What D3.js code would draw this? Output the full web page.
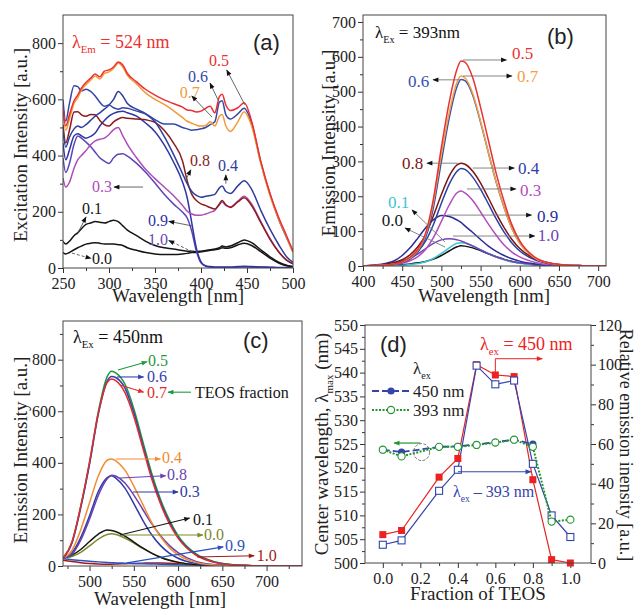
<!DOCTYPE html>
<html>
<head>
<meta charset="utf-8">
<script src="https://cdn.jsdelivr.net/npm/d3@7"></script>
<style>
body { margin: 0; background: #fff; }
.axis path.domain { display: none; }
.axis line { stroke: #333; }
</style>
</head>
<body>
<svg id="fig" width="635" height="610"></svg>
<script>
// ---------- panel (a): excitation spectra, lambda_em = 524 nm ----------
const WL_A = [250,253,257,262,266,270,275,280,285,290,295,300,305,310,315,320,330,340,350,360,370,380,385,390,395,400,405,410,415,420,423,427,432,440,447,455,465,475,485,493,500];
const A_05 = [570,505,545,595,615,640,660,675,690,680,700,705,715,733,722,692,662,635,615,598,585,572,562,560,555,558,568,575,552,610,618,580,560,570,588,522,380,265,175,115,60];
const A_07 = [555,490,530,585,605,632,652,668,683,672,692,698,710,728,715,685,655,622,600,582,560,535,522,515,508,505,507,520,505,540,546,505,486,520,556,505,372,258,170,110,55];
const A_06 = [598,522,585,648,645,630,636,628,612,590,575,580,570,565,570,568,558,548,528,512,512,500,495,490,492,495,500,510,520,590,595,545,530,548,568,515,375,262,168,108,58];
const A_04 = [486,430,465,495,505,500,510,525,540,552,565,580,600,628,612,585,565,548,520,468,405,335,300,272,258,252,255,258,262,285,292,272,265,292,310,280,205,138,80,40,20];
const A_08 = [510,445,490,555,556,545,540,546,545,525,510,505,520,530,535,533,530,527,518,490,445,380,310,262,240,228,222,215,210,228,240,225,215,235,250,222,162,102,55,28,15];
const A_03 = [320,288,305,355,385,400,418,438,452,458,462,475,492,500,470,440,392,350,318,288,258,222,202,192,188,188,192,198,205,225,235,222,218,238,255,228,165,105,55,28,15];
const A_09 = [444,385,420,470,478,470,462,468,480,505,525,540,550,556,558,552,540,515,485,438,378,305,250,160,70,22,8,5,4,4,4,4,4,5,6,5,4,3,2,2,1];
const A_10 = [391,340,372,440,470,462,448,432,412,392,380,372,392,405,406,398,372,340,302,262,228,198,178,130,60,18,6,3,2,2,2,2,2,3,4,3,3,2,1,1,1];
const A_01 = [95,85,95,115,125,140,155,160,165,163,160,165,170,165,150,135,115,95,80,72,68,62,60,60,58,60,62,65,68,72,78,75,78,90,100,90,65,40,20,10,5];
const A_00 = [55,50,55,65,72,78,85,88,90,88,85,85,85,83,80,72,63,55,50,48,48,50,52,55,55,58,60,63,65,68,72,70,72,82,88,80,58,35,17,8,4];

// ---------- panel (b): emission spectra, lambda_ex = 393 nm ----------
const WL_B = [400,420,440,450,460,470,480,490,500,510,520,525,530,540,550,560,570,580,590,600,620,640,660,680,710];
const B_05 = [0,2,6,12,25,48,95,195,340,470,565,588,585,540,455,360,265,185,118,72,24,8,3,1,0];
const B_07 = [0,2,6,11,23,45,90,185,320,440,528,545,540,495,415,325,240,168,107,65,22,7,2,1,0];
const B_06 = [0,2,5,10,20,40,82,170,300,425,515,535,532,490,412,325,240,168,108,66,22,7,2,1,0];
const B_08 = [0,3,10,18,32,55,90,145,205,258,290,295,292,272,238,195,150,110,76,50,20,7,2,1,0];
const B_04 = [0,2,7,13,24,42,72,120,180,235,272,280,277,255,220,178,135,97,66,43,17,6,2,1,0];
const B_03 = [0,1,4,8,15,27,48,82,128,175,210,215,210,188,155,120,88,60,40,26,10,3,1,0,0];
const B_09 = [0,4,15,30,52,80,110,133,145,142,132,125,115,96,76,57,42,30,21,14,6,2,1,0,0];
const B_10 = [0,2,7,13,22,35,50,65,75,78,75,72,67,57,46,35,26,19,13,9,4,1,0,0,0];
const B_01 = [0,0,1,2,4,7,12,22,36,52,65,67,66,58,47,36,26,18,12,8,3,1,0,0,0];
const B_00 = [0,1,2,4,6,9,13,20,30,43,55,58,57,52,44,35,27,19,13,9,3,1,0,0,0];

// ---------- panel (c): emission spectra, lambda_ex = 450 nm ----------
const WL_C = [470,480,490,500,510,520,525,530,540,550,560,570,580,590,600,620,640,660,680,700,740];
const C_05 = [30,90,230,400,600,735,755,748,705,610,485,362,260,180,118,48,18,6,2,0,0];
const C_06 = [30,88,225,395,590,718,735,730,690,595,470,350,250,172,112,45,16,5,2,0,0];
const C_07 = [30,92,232,405,595,712,725,718,672,580,460,340,242,165,108,42,15,5,2,0,0];
const C_04 = [30,60,140,245,350,410,415,407,372,310,240,170,115,72,43,14,4,1,0,0,0];
const C_08 = [30,45,100,182,275,338,352,348,322,275,220,165,118,80,52,18,6,2,0,0,0];
const C_03 = [30,50,110,195,290,343,350,340,302,242,178,122,80,50,30,10,3,1,0,0,0];
const C_01 = [30,42,64,95,124,140,138,133,116,93,70,50,34,22,14,5,1,0,0,0,0];
const C_00 = [30,37,53,78,104,122,125,122,108,89,68,50,35,23,15,5,1,0,0,0,0];
const C_09 = [28,24,21,18,16,14,13,12,11,10,9,8,7,6,5,4,3,2,1,0,0];
const C_10 = [22,17,13,10,8,7,7,8,9,10,11,12,12,11,9,6,3,1,0,0,0];

// ---------- panel (d): centre wavelength and relative intensity ----------
const FRAC = [0.0,0.1,0.3,0.4,0.5,0.6,0.7,0.8,0.9,1.0];
const REL_450 = [14.3,16.4,43.3,52.7,100,94.8,94,42,1.7,0];
const REL_393 = [9.2,11.4,36.4,47,99.5,90.1,92,50,24,13.1];
const CW_393 = [523.8,522.4,524.4,524.4,524.8,525.3,525.9,524.4,508.7,509.1];
const CW_450 = [523.8,523.3,524.4,524.5,524.9,525.4,525.9,525.0];

const SERIF = '"Liberation Serif", "Times New Roman", serif';
const SANS = '"Liberation Sans", Arial, sans-serif';

const svg = d3.select('#fig');
const defs = svg.append('defs');
const markers = {};

function headFor(color) {
    const id = 'ah' + color.replace('#', '');
    if (!markers[id]) {
        defs.append('marker')
            .attr('id', id)
            .attr('viewBox', '0 0 10 10')
            .attr('refX', 9).attr('refY', 5)
            .attr('markerUnits', 'userSpaceOnUse')
            .attr('markerWidth', 7).attr('markerHeight', 6)
            .attr('orient', 'auto')
            .append('path')
            .attr('d', 'M0,1L10,5L0,9z')
            .attr('fill', color);
        markers[id] = true;
    }
    return `url(#${id})`;
}

function panel(id, box, xDom, yDom) {
    const x = d3.scaleLinear().domain(xDom).range([box.l, box.r]);
    const y = d3.scaleLinear().domain(yDom).range([box.b, box.t]);
    const g = svg.append('g').attr('id', id);
    defs.append('clipPath').attr('id', 'clip-' + id)
        .append('rect')
        .attr('x', box.l).attr('y', box.t)
        .attr('width', box.r - box.l).attr('height', box.b - box.t);
    const plot = g.append('g').attr('clip-path', `url(#clip-${id})`);
    return {x, y, g, plot, box};
}

function addAxis(p, side, scale, major, minor, fmt) {
    const b = p.box;
    let gen, tr;
    if (side === 'bottom') { gen = d3.axisBottom; tr = `translate(0,${b.b})`; }
    else if (side === 'left') { gen = d3.axisLeft; tr = `translate(${b.l},0)`; }
    else { gen = d3.axisRight; tr = `translate(${b.r},0)`; }
    p.g.append('g').attr('class', 'axis').attr('transform', tr)
        .call(gen(scale).tickValues(minor).tickSize(3).tickFormat(''));
    const ax = p.g.append('g').attr('class', 'axis').attr('transform', tr)
        .call(gen(scale).tickValues(major).tickSize(5).tickPadding(side === 'bottom' ? 5 : 2).tickFormat(fmt));
    ax.selectAll('text')
        .style('font-family', SERIF)
        .style('font-size', '16px')
        .attr('fill', '#222');
}

function frame(p) {
    const b = p.box;
    p.g.append('rect')
        .attr('x', b.l).attr('y', b.t)
        .attr('width', b.r - b.l).attr('height', b.b - b.t)
        .attr('fill', 'none')
        .attr('stroke', '#444')
        .attr('stroke-width', 1);
}

function drawSeries(p, wl, list, width) {
    const line = d3.line()
        .x((d, i) => p.x(wl[i]))
        .y(d => p.y(d))
        .curve(d3.curveMonotoneX);
    list.forEach(s => {
        p.plot.append('path')
            .attr('d', line(s.v))
            .attr('fill', 'none')
            .attr('stroke', s.c)
            .attr('stroke-width', width);
    });
}

function labels(p, list, size) {
    list.forEach(l => {
        p.g.append('text')
            .attr('x', p.x(l.x)).attr('y', p.y(l.y))
            .attr('fill', l.c)
            .style('font-family', SERIF)
            .style('font-size', size + 'px')
            .text(l.t);
    });
}

function arrows(p, list, lineColor, width) {
    list.forEach(a => {
        const col = a.c || lineColor;
        p.g.append('line')
            .attr('x1', p.x(a.x1)).attr('y1', p.y(a.y1))
            .attr('x2', p.x(a.x2)).attr('y2', p.y(a.y2))
            .attr('stroke', col)
            .attr('stroke-width', width)
            .attr('stroke-dasharray', a.dash ? '3,2' : null)
            .attr('marker-end', headFor(a.h || col));
    });
}

function lamText(g, x, y, sub, rest, size, color) {
    const t = g.append('text')
        .attr('x', x).attr('y', y)
        .attr('fill', color)
        .style('font-family', SERIF)
        .style('font-size', size + 'px');
    t.append('tspan').text('λ');
    t.append('tspan').attr('dy', size * 0.3).style('font-size', (size * 0.6) + 'px').text(sub);
    t.append('tspan').attr('dy', -size * 0.3).text(rest);
    return t;
}

function tag(g, x, y, s) {
    g.append('text')
        .attr('x', x).attr('y', y)
        .attr('fill', '#222')
        .style('font-family', SANS)
        .style('font-size', '22px')
        .text(s);
}

function title(x, y, s, rot, size) {
    return svg.append('text')
        .attr('transform', `translate(${x},${y}) rotate(${rot || 0})`)
        .attr('text-anchor', 'middle')
        .attr('fill', '#222')
        .style('font-family', SERIF)
        .style('font-size', (size || 19) + 'px')
        .text(s);
}

// ================= (a) =================
const pa = panel('pa', {l: 63, r: 293, t: 15, b: 268}, [250, 500], [0, 900]);
addAxis(pa, 'bottom', pa.x, d3.range(250, 501, 50), d3.range(275, 500, 50), d3.format('d'));
addAxis(pa, 'left', pa.y, d3.range(0, 801, 200), d3.range(100, 900, 200), d3.format('d'));
drawSeries(pa, WL_A, [
    {v: A_00, c: '#151515'},
    {v: A_01, c: '#151515'},
    {v: A_10, c: '#5a46b8'},
    {v: A_09, c: '#3034a6'},
    {v: A_03, c: '#b04cb8'},
    {v: A_08, c: '#8a1c1c'},
    {v: A_04, c: '#2f3e9e'},
    {v: A_06, c: '#3548a8'},
    {v: A_07, c: '#f29a3a'},
    {v: A_05, c: '#ec2f2f'}
], 1.5);
frame(pa);
labels(pa, [
    {t: '0.5', c: '#ec2f2f', x: 408.7, y: 718},
    {t: '0.6', c: '#3548a8', x: 385.9, y: 662},
    {t: '0.7', c: '#f29a3a', x: 377, y: 605},
    {t: '0.8', c: '#8a1c1c', x: 388, y: 363},
    {t: '0.4', c: '#2f3e9e', x: 418.5, y: 345},
    {t: '0.3', c: '#b04cb8', x: 281.5, y: 270},
    {t: '0.1', c: '#151515', x: 270.7, y: 192},
    {t: '0.9', c: '#3034a6', x: 342.4, y: 150},
    {t: '1.0', c: '#6a48b8', x: 342.4, y: 83},
    {t: '0.0', c: '#151515', x: 281.5, y: 16}
], 16);
arrows(pa, [
    {x1: 447.8, y1: 580, x2: 428, y2: 704},
    {x1: 418.5, y1: 598, x2: 409.8, y2: 658},
    {x1: 412, y1: 537, x2: 390, y2: 612},
    {x1: 382.6, y1: 309, x2: 389, y2: 349},
    {x1: 427, y1: 300, x2: 427, y2: 331},
    {x1: 337, y1: 288, x2: 305.4, y2: 288},
    {x1: 266, y1: 124, x2: 275, y2: 181},
    {x1: 390, y1: 150, x2: 365, y2: 166},
    {x1: 391, y1: 57, x2: 365, y2: 98, dash: true},
    {x1: 259.8, y1: 53, x2: 280.4, y2: 34, dash: true}
].map(a => Object.assign(a, {h: '#111'})), '#555', 0.9);
lamText(pa.g, pa.x(259.8), pa.y(783), 'Em', ' = 524 nm', 18, '#ec2f2f');
tag(pa.g, pa.x(456.5), pa.y(775), '(a)');
title(27, 145, 'Excitation Intensity [a.u.]', -90);
title(178, 302, 'Wavelength [nm]');

// ================= (b) =================
const pb = panel('pb', {l: 363, r: 606, t: 15, b: 266}, [400, 710], [0, 720]);
addAxis(pb, 'bottom', pb.x, d3.range(400, 701, 50), d3.range(425, 700, 50), d3.format('d'));
addAxis(pb, 'left', pb.y, d3.range(0, 701, 100), d3.range(50, 720, 100), d3.format('d'));
drawSeries(pb, WL_B, [
    {v: B_00, c: '#151515'},
    {v: B_01, c: '#3cc6d6'},
    {v: B_10, c: '#7044b4'},
    {v: B_09, c: '#2c2c98'},
    {v: B_03, c: '#b24cc0'},
    {v: B_04, c: '#2f40a4'},
    {v: B_08, c: '#7a1616'},
    {v: B_06, c: '#3550b0'},
    {v: B_07, c: '#f2a043'},
    {v: B_05, c: '#e83232'}
], 1.5);
frame(pb);
labels(pb, [
    {t: '0.5', c: '#e83232', x: 590, y: 594},
    {t: '0.7', c: '#f2a043', x: 596.5, y: 528},
    {t: '0.6', c: '#3550b0', x: 457.4, y: 513},
    {t: '0.8', c: '#7a1616', x: 449.8, y: 278},
    {t: '0.4', c: '#2f40a4', x: 597.7, y: 264},
    {t: '0.3', c: '#b24cc0', x: 600.3, y: 201},
    {t: '0.9', c: '#2c2c98', x: 622, y: 126},
    {t: '1.0', c: '#7044b4', x: 623, y: 72},
    {t: '0.1', c: '#3cc6d6', x: 431.9, y: 166},
    {t: '0.0', c: '#151515', x: 424, y: 115}
], 17);
arrows(pb, [
    {x1: 527.6, y1: 591, x2: 583, y2: 591},
    {x1: 527.6, y1: 545, x2: 590, y2: 545},
    {x1: 523.7, y1: 534, x2: 489.3, y2: 534},
    {x1: 521, y1: 295, x2: 481.6, y2: 295},
    {x1: 540, y1: 281, x2: 593, y2: 281},
    {x1: 532.7, y1: 221, x2: 595, y2: 221},
    {x1: 507, y1: 146, x2: 615, y2: 146},
    {x1: 514.8, y1: 86, x2: 619, y2: 86},
    {x1: 504.6, y1: 69, x2: 462.5, y2: 161},
    {x1: 504.6, y1: 54.5, x2: 453.6, y2: 109}
].map(a => Object.assign(a, {h: '#111'})), '#777', 0.9);
lamText(pb.g, pb.x(415.3), pb.y(654), 'Ex', ' = 393nm', 17, '#111');
tag(pb.g, pb.x(634.7), pb.y(637), '(b)');
title(335, 143, 'Emission Intensity [a.u.]', -90);
title(484, 302, 'Wavelength [nm]');

// ================= (c) =================
const pc = panel('pc', {l: 63, r: 302, t: 321, b: 566}, [470, 740], [0, 950]);
addAxis(pc, 'bottom', pc.x, d3.range(500, 701, 50), d3.range(475, 740, 50), d3.format('d'));
addAxis(pc, 'left', pc.y, d3.range(0, 801, 200), d3.range(100, 950, 200), d3.format('d'));
drawSeries(pc, WL_C, [
    {v: C_10, c: '#a01a1a'},
    {v: C_09, c: '#2c50c0'},
    {v: C_00, c: '#7c8a2c'},
    {v: C_01, c: '#151515'},
    {v: C_03, c: '#2d3aa8'},
    {v: C_08, c: '#6a42b2'},
    {v: C_04, c: '#f08c32'},
    {v: C_05, c: '#1f9a3c'},
    {v: C_06, c: '#3242b2'},
    {v: C_07, c: '#e42c2c'}
], 1.5);
frame(pc);
labels(pc, [
    {t: '0.5', c: '#1f9a3c', x: 566, y: 774},
    {t: '0.6', c: '#3242b2', x: 565, y: 712},
    {t: '0.7', c: '#e42c2c', x: 565, y: 650},
    {t: 'TEOS fraction', c: '#151515', x: 619, y: 650},
    {t: '0.4', c: '#f08c32', x: 581.8, y: 400},
    {t: '0.8', c: '#6a42b2', x: 587.5, y: 333},
    {t: '0.3', c: '#2d3aa8', x: 602, y: 268},
    {t: '0.1', c: '#151515', x: 617, y: 159},
    {t: '0.0', c: '#7c8a2c', x: 629.3, y: 101},
    {t: '0.9', c: '#2c50c0', x: 653, y: 58},
    {t: '1.0', c: '#a01a1a', x: 689, y: 19}
], 16);
arrows(pc, [
    {x1: 532, y1: 760, x2: 565, y2: 792, c: '#1f9a3c'},
    {x1: 531, y1: 733, x2: 561, y2: 733, c: '#3242b2'},
    {x1: 534.4, y1: 702, x2: 561, y2: 674, c: '#e42c2c'},
    {x1: 614.6, y1: 674, x2: 588.6, y2: 674, c: '#1f9a3c'},
    {x1: 530, y1: 415, x2: 580, y2: 415, c: '#f08c32'},
    {x1: 534.4, y1: 341, x2: 586, y2: 350, c: '#6a42b2'},
    {x1: 549, y1: 287, x2: 600, y2: 287, c: '#2d3aa8'},
    {x1: 534.4, y1: 120, x2: 613, y2: 186, c: '#151515'},
    {x1: 537.8, y1: 120, x2: 628, y2: 120, c: '#7c8a2c'},
    {x1: 542.3, y1: 12, x2: 651, y2: 74, c: '#2c50c0'},
    {x1: 621.4, y1: 35, x2: 686, y2: 40, c: '#a01a1a'}
], '#333', 1.1);
lamText(pc.g, pc.x(481.3), pc.y(865), 'Ex', ' = 450nm', 18, '#111');
tag(pc.g, pc.x(673.3), pc.y(845), '(c)');
title(27, 450, 'Emission Intensity [a.u.]', -90);
title(160, 605, 'Wavelength [nm]');

// ================= (d) =================
const pd = panel('pd', {l: 365, r: 591, t: 325, b: 563}, [-0.095, 1.11], [500, 550]);
const yR = d3.scaleLinear().domain([0, 120]).range([563, 325]);
addAxis(pd, 'bottom', pd.x, d3.range(0, 1.01, 0.2), [0.1, 0.3, 0.5, 0.7, 0.9], d3.format('.1f'));
addAxis(pd, 'left', pd.y, d3.range(500, 551, 5), d3.range(502.5, 550, 5), d3.format('d'));
addAxis(pd, 'right', yR, d3.range(0, 121, 20), d3.range(10, 120, 20), d3.format('d'));

const red = '#ec2222', blu = '#3444aa', grn = '#22962e';
const lineR = d3.line().x((d, i) => pd.x(FRAC[i])).y(d => yR(d));
const lineL = d3.line().x((d, i) => pd.x(FRAC[i])).y(d => pd.y(d));

pd.g.append('path').attr('d', lineR(REL_450)).attr('fill', 'none').attr('stroke', red).attr('stroke-width', 1.2);
pd.g.append('path').attr('d', lineR(REL_393)).attr('fill', 'none').attr('stroke', blu).attr('stroke-width', 1.2);
pd.g.selectAll('.sqR').data(REL_450).enter().append('rect')
    .attr('x', (d, i) => pd.x(FRAC[i]) - 3.5).attr('y', d => yR(d) - 3.5)
    .attr('width', 7).attr('height', 7).attr('fill', red);
pd.g.selectAll('.sqB').data(REL_393).enter().append('rect')
    .attr('x', (d, i) => pd.x(FRAC[i]) - 3.5).attr('y', d => yR(d) - 3.5)
    .attr('width', 7).attr('height', 7)
    .attr('fill', '#fff').attr('stroke', blu).attr('stroke-width', 1.1);

pd.g.append('path').attr('d', lineL(CW_450)).attr('fill', 'none')
    .attr('stroke', blu).attr('stroke-width', 1.8).attr('stroke-dasharray', '7,3');
pd.g.append('path').attr('d', lineL(CW_393)).attr('fill', 'none')
    .attr('stroke', grn).attr('stroke-width', 2).attr('stroke-dasharray', '2,1.5');
pd.g.selectAll('.ciB').data(CW_450).enter().append('circle')
    .attr('cx', (d, i) => pd.x(FRAC[i])).attr('cy', d => pd.y(d))
    .attr('r', 3.6).attr('fill', blu);
pd.g.selectAll('.ciG').data(CW_393).enter().append('circle')
    .attr('cx', (d, i) => pd.x(FRAC[i])).attr('cy', d => pd.y(d))
    .attr('r', 3.6).attr('fill', '#fff').attr('stroke', grn).attr('stroke-width', 1.1);
frame(pd);

// annotations in (d)
pd.g.append('path')
    .attr('d', `M${pd.x(0.6)},${yR(94.8)}V${yR(103)}H${pd.x(0.85)}`)
    .attr('fill', 'none').attr('stroke', red).attr('stroke-width', 1)
    .attr('marker-end', headFor(red));
pd.g.append('path')
    .attr('d', `M${pd.x(0.4)},${yR(46)}H${pd.x(0.79)}`)
    .attr('fill', 'none').attr('stroke', blu).attr('stroke-width', 1)
    .attr('marker-end', headFor(blu));
pd.g.append('path')
    .attr('d', `M${pd.x(0.2)},${pd.y(525.2)}H${pd.x(0.06)}`)
    .attr('fill', 'none').attr('stroke', grn).attr('stroke-width', 1.2)
    .attr('marker-end', headFor(grn));
pd.g.append('ellipse')
    .attr('cx', pd.x(0.207)).attr('cy', pd.y(523.3))
    .attr('rx', 8).attr('ry', 8.5)
    .attr('fill', 'none').attr('stroke', '#666').attr('stroke-width', 0.9)
    .attr('stroke-dasharray', '3,1.5');
lamText(pd.g, pd.x(0.518), yR(107.4), 'ex', ' = 450 nm', 18, red);
lamText(pd.g, pd.x(0.374), yR(33.3), 'ex', ' – 393 nm', 16, blu);
tag(pd.g, pd.x(-0.015), pd.y(544.3), '(d)');

// legend (d)
const lg = pd.g.append('g');
lamText(lg, 413, 374, 'ex', '', 17, '#222');
lg.append('line').attr('x1', 372).attr('x2', 410).attr('y1', 391).attr('y2', 391)
    .attr('stroke', blu).attr('stroke-width', 1.8).attr('stroke-dasharray', '7,3');
lg.append('circle').attr('cx', 391).attr('cy', 391).attr('r', 3.6).attr('fill', blu);
lg.append('text').attr('x', 413).attr('y', 397).attr('fill', '#222')
    .style('font-family', SERIF).style('font-size', '17px').text('450 nm');
lg.append('line').attr('x1', 372).attr('x2', 410).attr('y1', 410).attr('y2', 410)
    .attr('stroke', grn).attr('stroke-width', 2).attr('stroke-dasharray', '2,1.5');
lg.append('circle').attr('cx', 391).attr('cy', 410).attr('r', 3.6)
    .attr('fill', '#fff').attr('stroke', grn).attr('stroke-width', 1.1);
lg.append('text').attr('x', 413).attr('y', 416).attr('fill', '#222')
    .style('font-family', SERIF).style('font-size', '17px').text('393 nm');

const lt = svg.append('text')
    .attr('transform', 'translate(328,444) rotate(-90)')
    .attr('text-anchor', 'middle')
    .attr('fill', '#222')
    .style('font-family', SERIF)
    .style('font-size', '19px');
lt.append('tspan').text('Center wavelength, λ');
lt.append('tspan').attr('dy', 5).style('font-size', '11px').text('max');
lt.append('tspan').attr('dy', -5).text(' (nm)');
title(620, 445, 'Relative emission inensity [a.u.]', 90, 18);
title(478, 600, 'Fraction of TEOS');
</script>
</body>
</html>
